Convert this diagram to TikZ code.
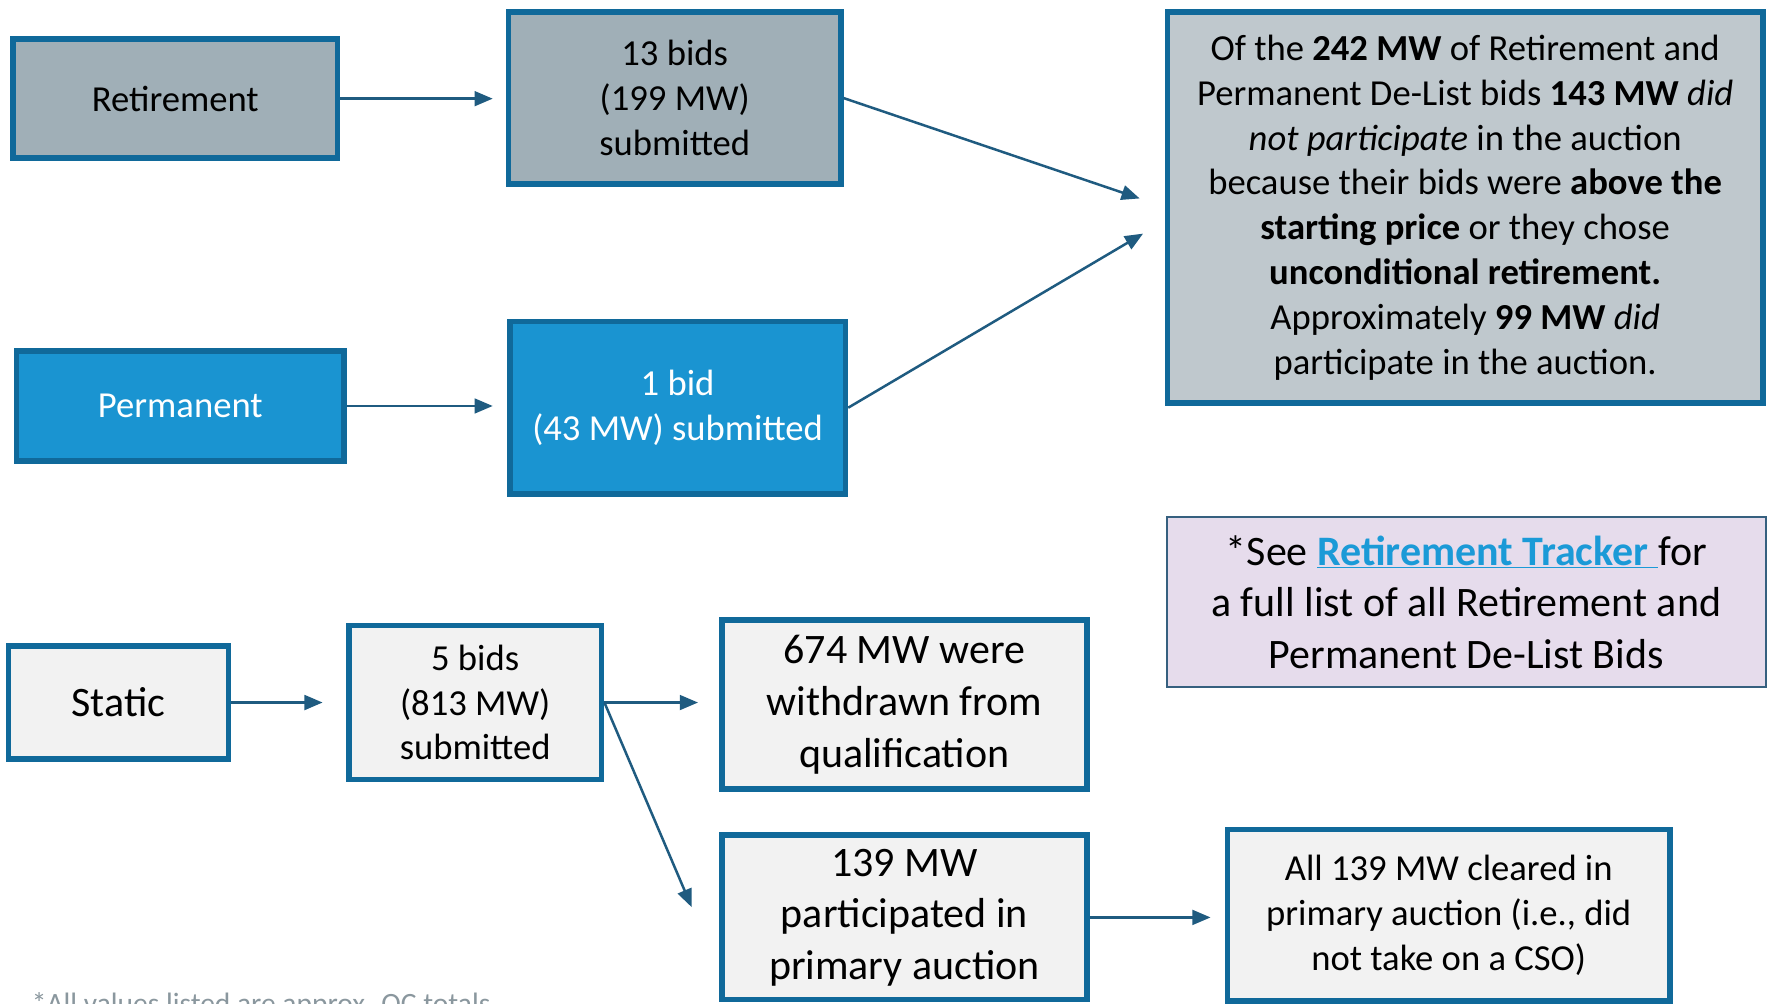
\documentclass[tikz,border=0pt]{standalone}
\usepackage{fontspec}
\setmainfont{Carlito}
\usetikzlibrary{arrows.meta}
\definecolor{boxborder}{HTML}{10699A}
\definecolor{arrowc}{HTML}{1F5B80}
\definecolor{retfill}{HTML}{A0AFB7}
\definecolor{bigfill}{HTML}{BFC8CD}
\definecolor{permfill}{HTML}{1A94D1}
\definecolor{lightfill}{HTML}{F2F2F2}
\definecolor{purplefill}{HTML}{E6DCEC}
\definecolor{purpleborder}{HTML}{36607F}
\definecolor{linkc}{HTML}{1B9AD7}
\definecolor{footgray}{HTML}{8A979E}
\begin{document}
\begin{tikzpicture}[x=1pt,y=-1pt,
  box/.style={draw=boxborder, line width=5pt, inner sep=0pt, align=center, text=black},
  arr/.style={draw=arrowc, line width=2.2pt, -{Triangle[length=16pt,width=13pt]}},
  fs/.style={font=\fontsize{32.3}{39.5}\selectfont},
  fl/.style={font=\fontsize{37}{45.5}\selectfont}]
\clip (0,0) rectangle (1567,884.5);
\fill[white] (0,0) rectangle (1567,884.5);
% top row
\node[box, fill=retfill, fs, minimum width=286pt, minimum height=105pt] (ret) at (154.5,87) {Retirement};
\node[box, fill=retfill, fs, minimum width=293pt, minimum height=152pt] (b13) at (595,86.5) {13 bids\\(199 MW)\\submitted};
\node[box, fill=bigfill, fs, minimum width=525pt, minimum height=345pt] (big) at (1292,183)
 {Of the \textbf{242 MW} of Retirement and\\
  Permanent De-List bids \textbf{143 MW} \textit{did}\\
  \textit{not participate} in the auction\\
  because their bids were \textbf{above the}\\
  \textbf{starting price} or they chose\\
  \textbf{unconditional retirement.}\\
  Approximately \textbf{99 MW} \textit{did}\\
  participate in the auction.};
% second row
\node[box, fill=permfill, text=white, fs, minimum width=289pt, minimum height=97pt] (perm) at (159,358) {Permanent};
\node[box, fill=permfill, text=white, fs, minimum width=296pt, minimum height=152pt] (b1) at (597.5,359.5) {1 bid\\(43 MW) submitted};
% note
\node[draw=purpleborder, line width=2pt, fill=purplefill, inner sep=0pt, align=center, fl, minimum width=528pt, minimum height=150pt] (note) at (1293,531)
 {*See \textcolor{linkc}{\underline{\textbf{Retirement Tracker}\ }}for\\
  a full list of all Retirement and\\
  Permanent De-List Bids};
% bottom rows
\node[box, fill=lightfill, fl, minimum width=194pt, minimum height=100pt] (static) at (104.5,619.5) {Static};
\node[box, fill=lightfill, fs, minimum width=223pt, minimum height=136pt] (b5) at (419,619.5) {5 bids\\(813 MW)\\submitted};
\node[box, fill=lightfill, fl, minimum width=322pt, minimum height=149pt] (wd) at (797.5,621.5) {674 MW were\\withdrawn from\\qualification};
\node[box, fill=lightfill, fl, minimum width=322pt, minimum height=145pt] (part) at (797.5,809) {139 MW\\participated in\\primary auction};
\node[box, fill=lightfill, fs, minimum width=390pt, minimum height=151pt] (clr) at (1277.5,807) {All 139 MW cleared in\\primary auction (i.e., did\\not take on a CSO)};
% footnote (cut at bottom edge)
\node[anchor=base west, text=footgray, font=\fontsize{26}{31}\selectfont, inner sep=0pt] (foot) at (28,894) {*All values listed are approx. OC totals};
% free arrow ends
\coordinate (t1) at (1005,175);
\coordinate (t2) at (1008,206);
\coordinate (t3) at (610,800);
% connectors
\draw[arr, shorten >=11.5pt] (ret.east) -- (ret.east -| b13.west);
\draw[arr, shorten >=12.5pt] (perm.east) -- (perm.east -| b1.west);
\draw[arr] (b13.east) -- (t1);
\draw[arr] (b1.east) -- (t2);
\draw[arr, shorten >=20.5pt] (static.east) -- (static.east -| b5.west);
\draw[arr, shorten >=18.5pt] (b5.east) -- (b5.east -| wd.west);
\draw[arr] (b5.east) -- (t3);
\draw[arr, shorten >=12.5pt] (part.east) -- (part.east -| clr.west);
\end{tikzpicture}
\end{document}
